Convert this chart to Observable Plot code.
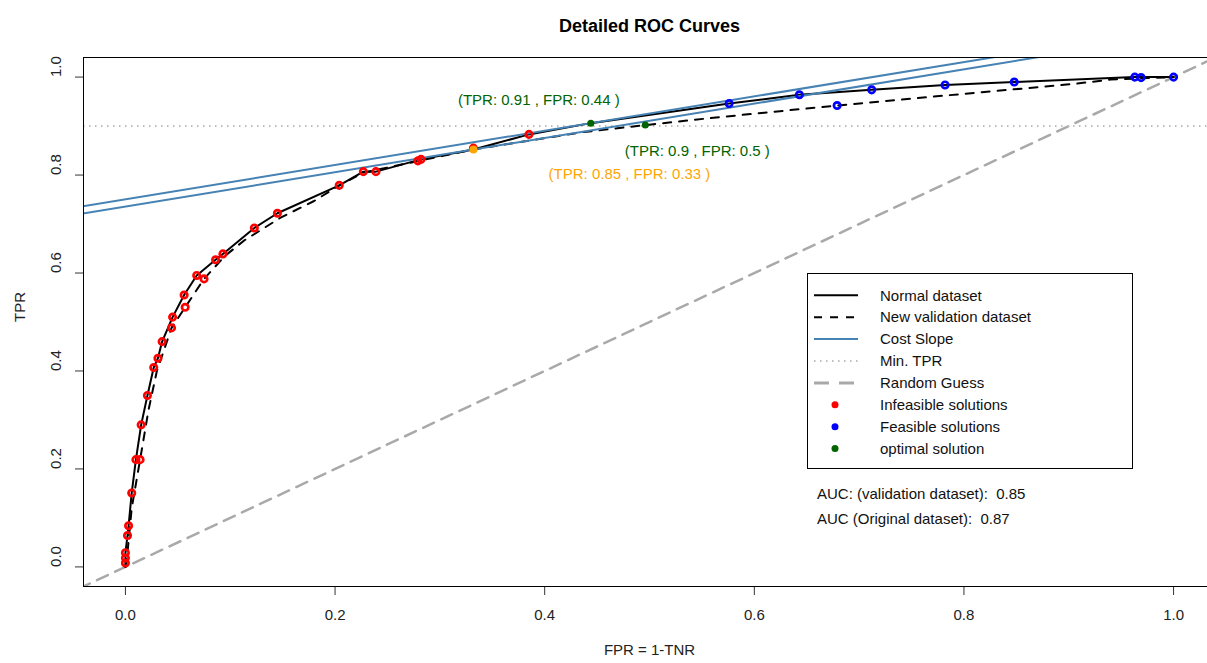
<!DOCTYPE html>
<html><head><meta charset="utf-8">
<script src="https://cdn.jsdelivr.net/npm/d3@7"></script>
<script src="https://cdn.jsdelivr.net/npm/@observablehq/plot@0.6"></script>
<style>
html,body{margin:0;padding:0;background:#fff;overflow:hidden;}
</style></head><body><div id="chart"></div>
<script>
// ---- data ----
const normalFPR = [0, 0, 0, 0.002, 0.003, 0.006, 0.010, 0.015, 0.021, 0.027, 0.031, 0.035, 0.045, 0.056, 0.068, 0.086, 0.093, 0.123, 0.145, 0.204, 0.227, 0.239, 0.282, 0.332, 0.385, 0.444, 0.576, 0.643, 0.712, 0.782, 0.848, 0.963, 1.0];
const normalTPR = [0, 0.008, 0.029, 0.064, 0.084, 0.151, 0.219, 0.290, 0.350, 0.407, 0.426, 0.460, 0.510, 0.555, 0.595, 0.627, 0.639, 0.692, 0.722, 0.779, 0.807, 0.807, 0.832, 0.852, 0.883, 0.906, 0.946, 0.964, 0.974, 0.984, 0.990, 1.0, 1.0];

const validFPR = [0, 0.002, 0.006, 0.014, 0.022, 0.030, 0.044, 0.057, 0.075, 0.095, 0.113, 0.148, 0.180, 0.204, 0.227, 0.280, 0.332, 0.434, 0.496, 0.561, 0.679, 0.740, 0.816, 0.905, 0.940, 1.0];
const validTPR = [0, 0.030, 0.120, 0.219, 0.320, 0.400, 0.488, 0.530, 0.588, 0.635, 0.666, 0.713, 0.747, 0.779, 0.805, 0.829, 0.852, 0.887, 0.902, 0.917, 0.942, 0.954, 0.969, 0.986, 0.995, 1.0];

const infeasibleFPR = [0, 0, 0, 0.002, 0.003, 0.006, 0.010, 0.014, 0.015, 0.021, 0.027, 0.031, 0.035, 0.044, 0.045, 0.057, 0.056, 0.068, 0.075, 0.086, 0.093, 0.123, 0.145, 0.204, 0.227, 0.239, 0.279, 0.282, 0.332, 0.385];
const infeasibleTPR = [0.008, 0.018, 0.029, 0.064, 0.084, 0.151, 0.219, 0.219, 0.290, 0.350, 0.407, 0.426, 0.460, 0.488, 0.510, 0.530, 0.555, 0.595, 0.588, 0.627, 0.639, 0.692, 0.722, 0.779, 0.807, 0.807, 0.829, 0.832, 0.855, 0.883];

const feasibleFPR = [0.576, 0.643, 0.679, 0.712, 0.782, 0.848, 0.963, 0.969, 1.0];
const feasibleTPR = [0.946, 0.964, 0.942, 0.974, 0.984, 0.990, 1.0, 0.999, 1.0];

const optimalFPR = [0.444, 0.496];
const optimalTPR = [0.906, 0.902];

const chosenFPR = [0.332];
const chosenTPR = [0.852];

const minTPR = 0.9;
const costSlope = 0.35;
const tangentFPR = [0.444, 0.332];
const tangentTPR = [0.906, 0.852];

const aucValidation = 0.85;
const aucOriginal = 0.87;

const xTicks = [0, 0.2, 0.4, 0.6, 0.8, 1.0];
const yTicks = [0, 0.2, 0.4, 0.6, 0.8, 1.0];

const legendLabels = ["Normal dataset", "New validation dataset", "Cost Slope", "Min. TPR", "Random Guess", "Infeasible solutions", "Feasible solutions", "optimal solution"];

// ---- build tables ----
const zip = (xs, ys) => xs.map((x, i) => ({x, y: ys[i]}));
const normal = zip(normalFPR, normalTPR);
const valid = zip(validFPR, validTPR);
const infeasible = zip(infeasibleFPR, infeasibleTPR);
const feasible = zip(feasibleFPR, feasibleTPR);
const optimal = zip(optimalFPR, optimalTPR);
const chosen = zip(chosenFPR, chosenTPR);
const xDom = [-0.04, 1.04];
const costLines = tangentFPR.flatMap((fx, k) => [-0.2, 1.2].map(x => ({k, x, y: tangentTPR[k] + costSlope * (x - fx)})));
const diag = [{x: -0.2, y: -0.2}, {x: 1.2, y: 1.2}];
const r2 = v => String(Math.round(v * 100) / 100);
const lab = d => `(TPR: ${r2(d.y)} , FPR: ${r2(d.x)} )`;

const FONT = "'Liberation Sans', Arial, Helvetica, sans-serif";

const plot = Plot.plot({
  width: 1216, height: 663,
  marginLeft: 83, marginRight: 1, marginTop: 57, marginBottom: 77,
  style: {maxWidth: "none", fontFamily: FONT, fontSize: "15px", background: "white", overflow: "visible"},
  x: {domain: xDom, axis: null},
  y: {domain: xDom, axis: null},
  marks: [
    Plot.line(diag, {x: "x", y: "y", stroke: "#A9A9A9", strokeWidth: 2.5, strokeDasharray: "12,8", clip: true}),
    Plot.ruleY([minTPR], {stroke: "#BEBEBE", strokeWidth: 2, strokeDasharray: "1.5,4.5"}),
    Plot.line(valid, {x: "x", y: "y", stroke: "black", strokeWidth: 2, strokeDasharray: "8,8", strokeLinecap: "round"}),
    Plot.line(normal, {x: "x", y: "y", stroke: "black", strokeWidth: 2}),
    Plot.line(costLines, {x: "x", y: "y", z: "k", stroke: "steelblue", strokeWidth: 2, clip: true}),
    Plot.dot(infeasible, {x: "x", y: "y", r: 3.2, stroke: "red", strokeWidth: 2.7, fill: "none"}),
    Plot.dot(feasible, {x: "x", y: "y", r: 3.2, stroke: "blue", strokeWidth: 2.7, fill: "none"}),
    Plot.dot(optimal, {x: "x", y: "y", r: 3.5, fill: "#006400", stroke: "none"}),
    Plot.dot(chosen, {x: "x", y: "y", r: 4, fill: "orange", stroke: "none"}),
    Plot.text([optimal[0]], {x: "x", y: "y", text: lab, fill: "#006400", dx: -52, dy: -23, fontSize: 15}),
    Plot.text([optimal[1]], {x: "x", y: "y", text: lab, fill: "#006400", dx: 52, dy: 26, fontSize: 15}),
    Plot.text(chosen, {x: "x", y: "y", text: lab, fill: "orange", dx: 156, dy: 25, fontSize: 15}),
    // axes
    Plot.axisX({ticks: xTicks, tickSize: 9, tickPadding: 14, tickFormat: d => d.toFixed(1), label: null, stroke: "#333", fill: "#222", fontSize: 15}),
    Plot.axisY({ticks: yTicks, tickSize: 8, tickFormat: () => "", label: null, stroke: "#333"}),
    Plot.text(yTicks, {y: d => d, text: d => d.toFixed(1), frameAnchor: "left", rotate: -90, dx: -27, fill: "#222", fontSize: 15}),
    Plot.frame({stroke: "black", strokeWidth: 1}),
    // titles
    Plot.text(["Detailed ROC Curves"], {frameAnchor: "top", dy: -38, fontWeight: "bold", fontSize: 18, fill: "black"}),
    Plot.text(["FPR = 1-TNR"], {frameAnchor: "bottom", dy: 68, fontSize: 15, fill: "#222"}),
    Plot.text(["TPR"], {frameAnchor: "left", rotate: -90, dx: -63, fontSize: 15, fill: "#222"})
  ]
});
document.getElementById("chart").appendChild(plot);

// ---- legend and AUC notes ----
const svg = d3.select(plot);
const g = svg.append("g").attr("font-family", FONT).attr("font-size", 15).attr("text-anchor", "start");
g.append("rect").attr("x", 807.5).attr("y", 273.5).attr("width", 325).attr("height", 195)
  .attr("fill", "white").attr("stroke", "black").attr("stroke-width", 1);
const styles = [
  {type: "line", stroke: "black", width: 2, dash: null},
  {type: "line", stroke: "black", width: 2, dash: "8,8"},
  {type: "line", stroke: "steelblue", width: 2, dash: null},
  {type: "line", stroke: "#BEBEBE", width: 2, dash: "1.5,4.5"},
  {type: "line", stroke: "#A9A9A9", width: 3, dash: "15,10"},
  {type: "dot", fill: "red"},
  {type: "dot", fill: "blue"},
  {type: "dot", fill: "#006400"}
];
legendLabels.forEach((label, i) => {
  const y = 295.3 + i * 21.9;
  const s = styles[i];
  if (s.type === "line") {
    const l = g.append("line").attr("x1", 814).attr("x2", 858).attr("y1", y).attr("y2", y)
      .attr("stroke", s.stroke).attr("stroke-width", s.width);
    if (s.dash) l.attr("stroke-dasharray", s.dash);
  } else {
    g.append("circle").attr("cx", 835).attr("cy", y).attr("r", 3.5).attr("fill", s.fill);
  }
  g.append("text").attr("x", 880).attr("y", y).attr("dy", "0.35em").attr("fill", "#111").text(label);
});
g.append("text").attr("x", 817).attr("y", 494).attr("dy", "0.35em").attr("fill", "#111")
  .style("white-space", "pre").text(`AUC: (validation dataset):  ${aucValidation.toFixed(2)}`);
g.append("text").attr("x", 817).attr("y", 519).attr("dy", "0.35em").attr("fill", "#111")
  .style("white-space", "pre").text(`AUC (Original dataset):  ${aucOriginal.toFixed(2)}`);
</script></body></html>
